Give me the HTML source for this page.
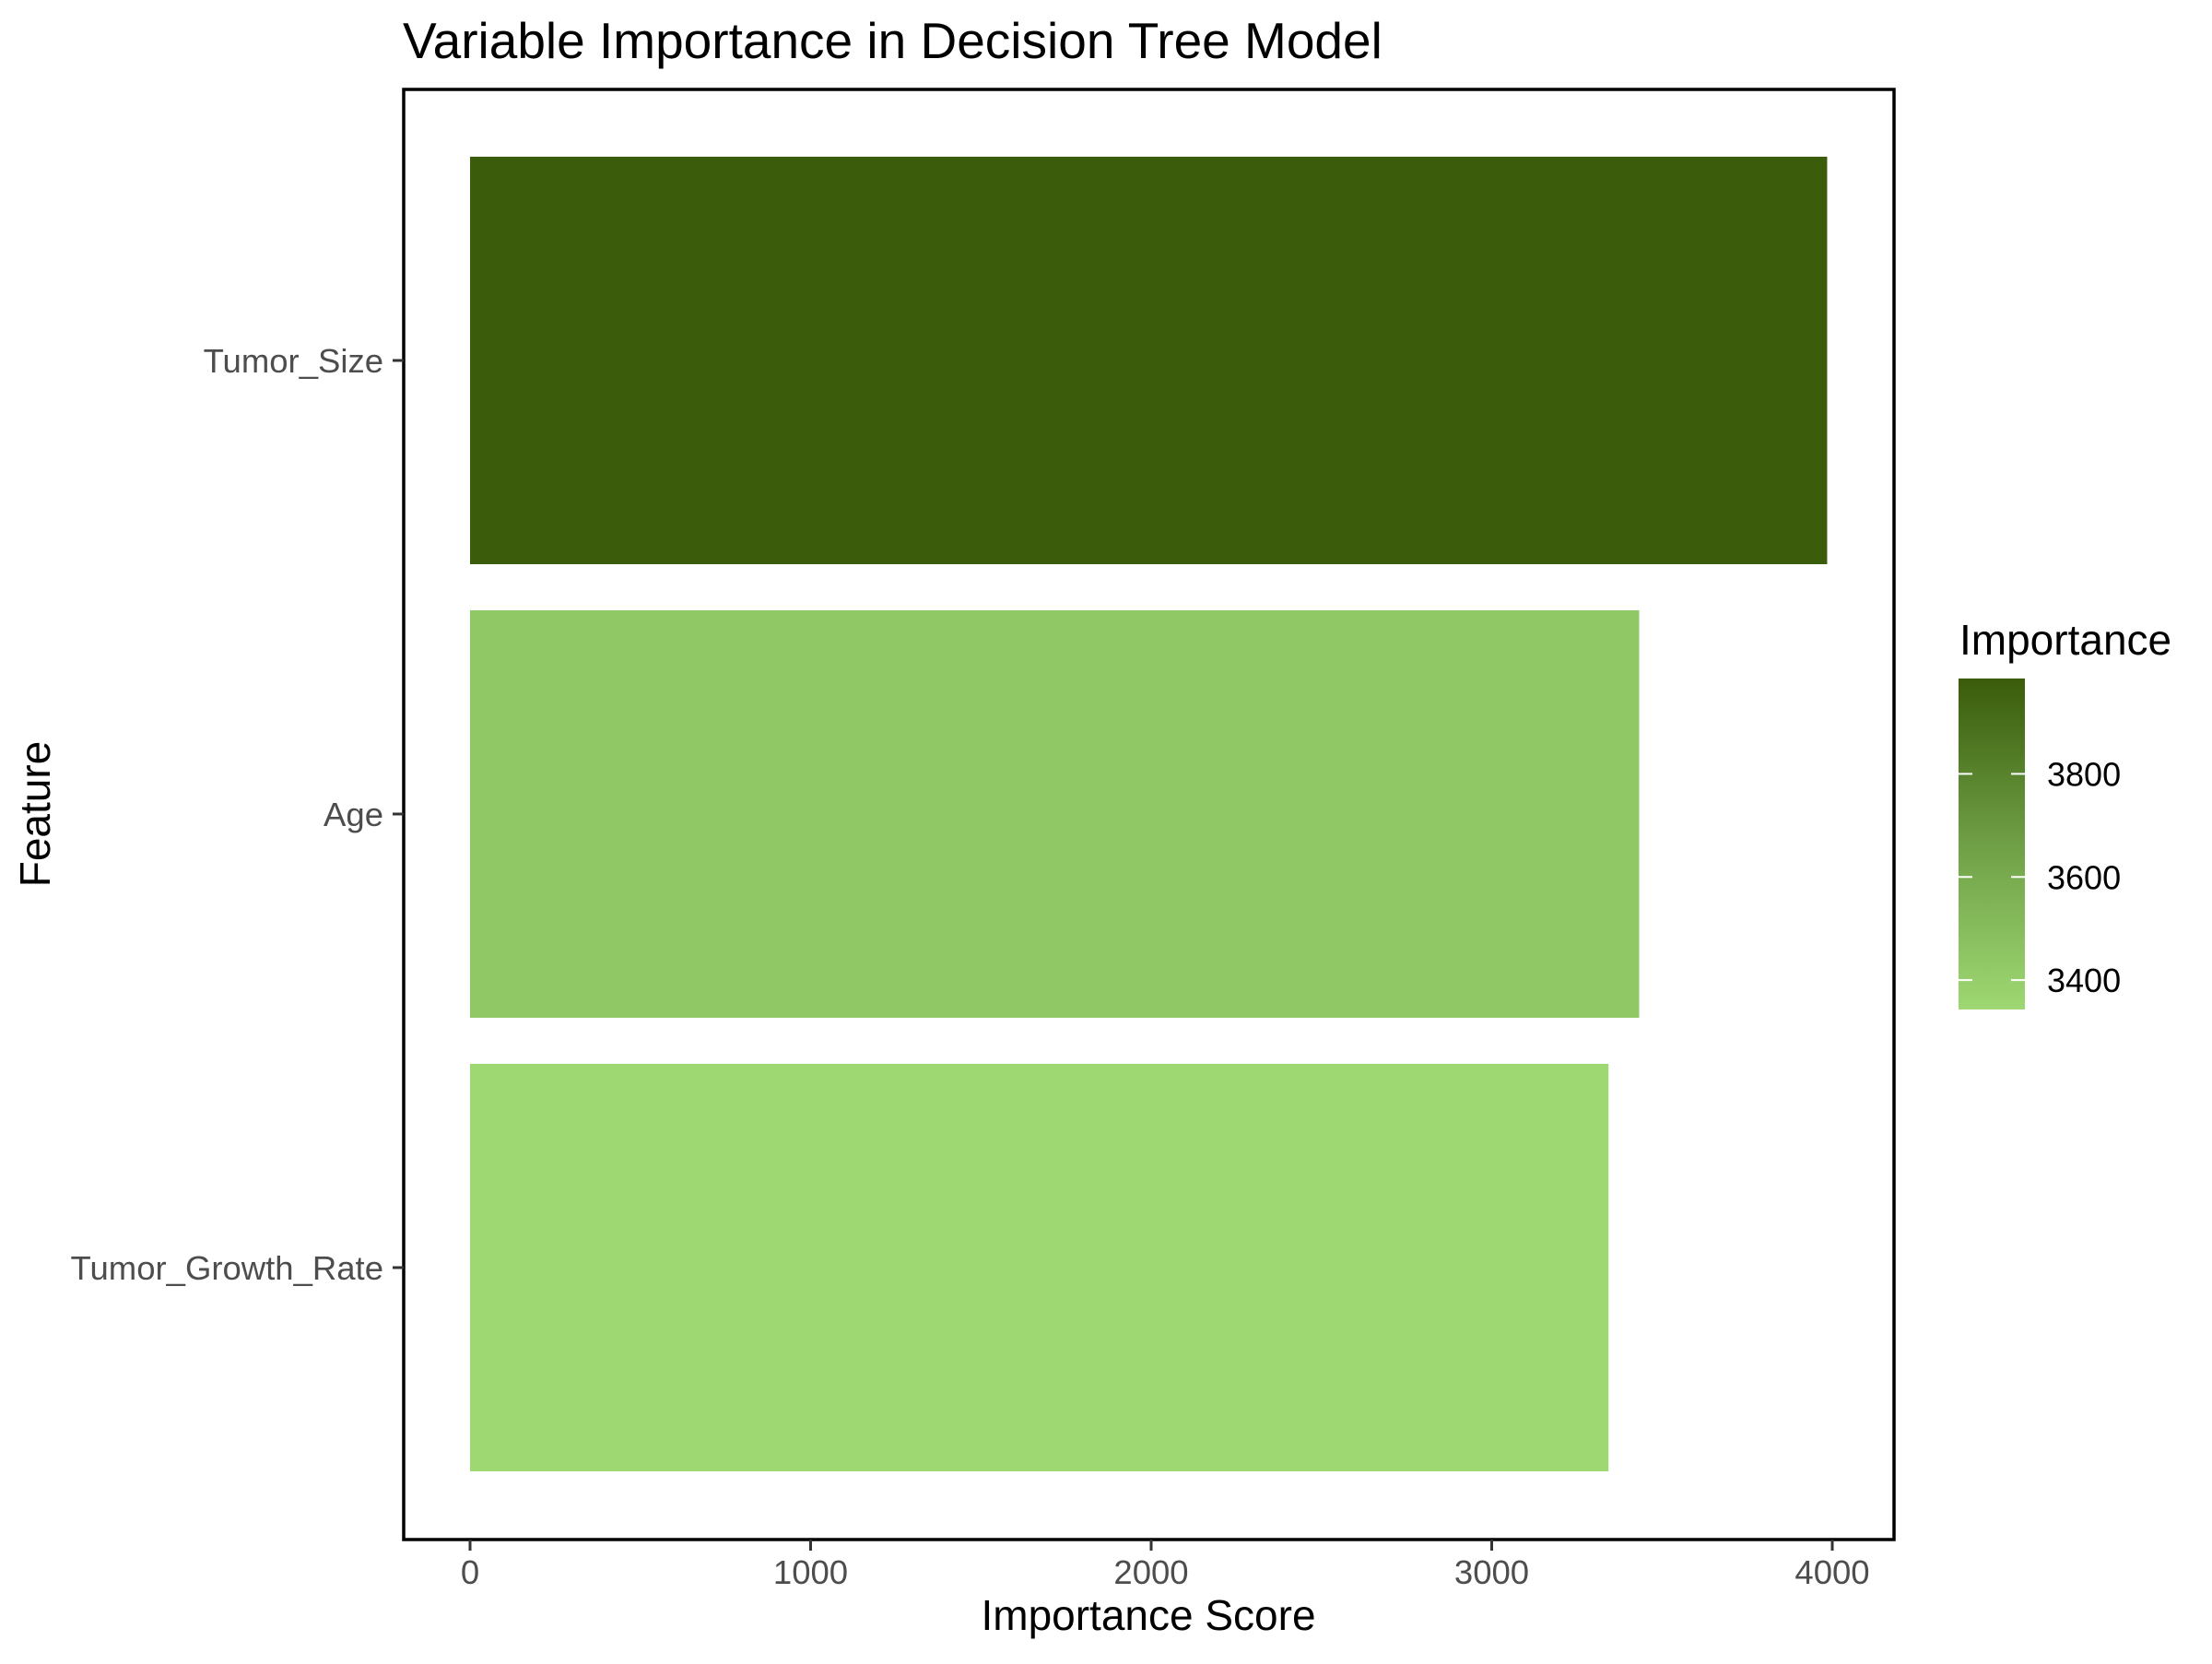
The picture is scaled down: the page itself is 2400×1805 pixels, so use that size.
<!DOCTYPE html>
<html><head><meta charset="utf-8"><style>
html,body{margin:0;padding:0;background:#fff;}
svg text{font-family:"Liberation Sans",Arial,sans-serif;}
</style></head><body>
<svg id="chart" width="2400" height="1800" xmlns="http://www.w3.org/2000/svg">
<defs><linearGradient id="cg" x1="0" y1="1" x2="0" y2="0">
<stop offset="0" stop-color="#9ed872"/><stop offset="0.5" stop-color="#6f9f46"/><stop offset="1" stop-color="#3a5c0b"/></linearGradient></defs>
<text x="437" y="63" font-size="55" fill="#000">Variable Importance in Decision Tree Model</text>
<g id="bars"></g>
<rect x="438" y="97" width="1617" height="1573" fill="none" stroke="#000" stroke-width="3.5"/>
<g id="axes"></g>
<text x="1246" y="1768" font-size="46" text-anchor="middle" fill="#000">Importance Score</text>
<text transform="translate(54,883) rotate(-90)" font-size="46" text-anchor="middle" fill="#000">Feature</text>
<text x="2126" y="710" font-size="46" fill="#000">Importance</text>
<rect x="2125" y="736" width="72" height="359" fill="url(#cg)"/>
<g id="legend"></g>
</svg>
<script>
const categories = ["Tumor_Size","Age","Tumor_Growth_Rate"];
const values = [3985, 3433, 3343];
const xTicks = [0,1000,2000,3000,4000];
const legendTicks = [3400,3600,3800];

const NS="http://www.w3.org/2000/svg";
const x0=510, pxPer=0.3695;
function xs(v){return x0+v*pxPer;}
function ys(i){return 391+i*492;}
const vmin=Math.min(...values), vmax=Math.max(...values);
function lerp(a,b,t){return Math.round(a+(b-a)*t);}
function color(v){
  const t=(v-vmin)/(vmax-vmin);
  const lo=[158,216,114], mid=[111,159,70], hi=[58,92,11];
  let c;
  if(t<0.5){const u=t/0.5;c=lo.map((a,k)=>lerp(a,mid[k],u));}
  else{const u=(t-0.5)/0.5;c=mid.map((a,k)=>lerp(a,hi[k],u));}
  return `rgb(${c[0]},${c[1]},${c[2]})`;
}
function mk(tag,attrs,parent){const e=document.createElementNS(NS,tag);for(const k in attrs)e.setAttribute(k,attrs[k]);parent.appendChild(e);return e;}
const bars=document.getElementById('bars'), axes=document.getElementById('axes'), legend=document.getElementById('legend');
const bh=442;
categories.forEach((c,i)=>{
  const r=mk('rect',{x:xs(0),y:ys(i)-bh/2,width:xs(values[i])-xs(0),height:bh,fill:color(values[i])},bars);
  
  
  const tk=mk('line',{x1:426,x2:438,y1:ys(i),y2:ys(i),stroke:'#333','stroke-width':3},axes);
  
  
  const t=mk('text',{x:416,y:ys(i)+13,'font-size':36.5,'text-anchor':'end',fill:'#4d4d4d'},axes);
  t.textContent=c;
  
  
});
xTicks.forEach(v=>{
  const tk=mk('line',{x1:xs(v),x2:xs(v),y1:1670,y2:1682,stroke:'#333','stroke-width':3},axes);
  
  
  const t=mk('text',{x:xs(v),y:1718,'font-size':36.5,'text-anchor':'middle',fill:'#4d4d4d'},axes);
  t.textContent=v;
  
  
});
const cbTop=736, cbBot=1095;
function ly(v){return cbBot-(v-vmin)/(vmax-vmin)*(cbBot-cbTop);}
legendTicks.forEach(v=>{
  [[2125,2140],[2182,2197]].forEach(p=>{
    const l=mk('line',{x1:p[0],x2:p[1],y1:ly(v),y2:ly(v),stroke:'#fff','stroke-width':2},legend);
    
    
  });
  const t=mk('text',{x:2221,y:ly(v)+13,'font-size':36,fill:'#000'},legend);
  t.textContent=v;
  
  
});
</script>
</body></html>
